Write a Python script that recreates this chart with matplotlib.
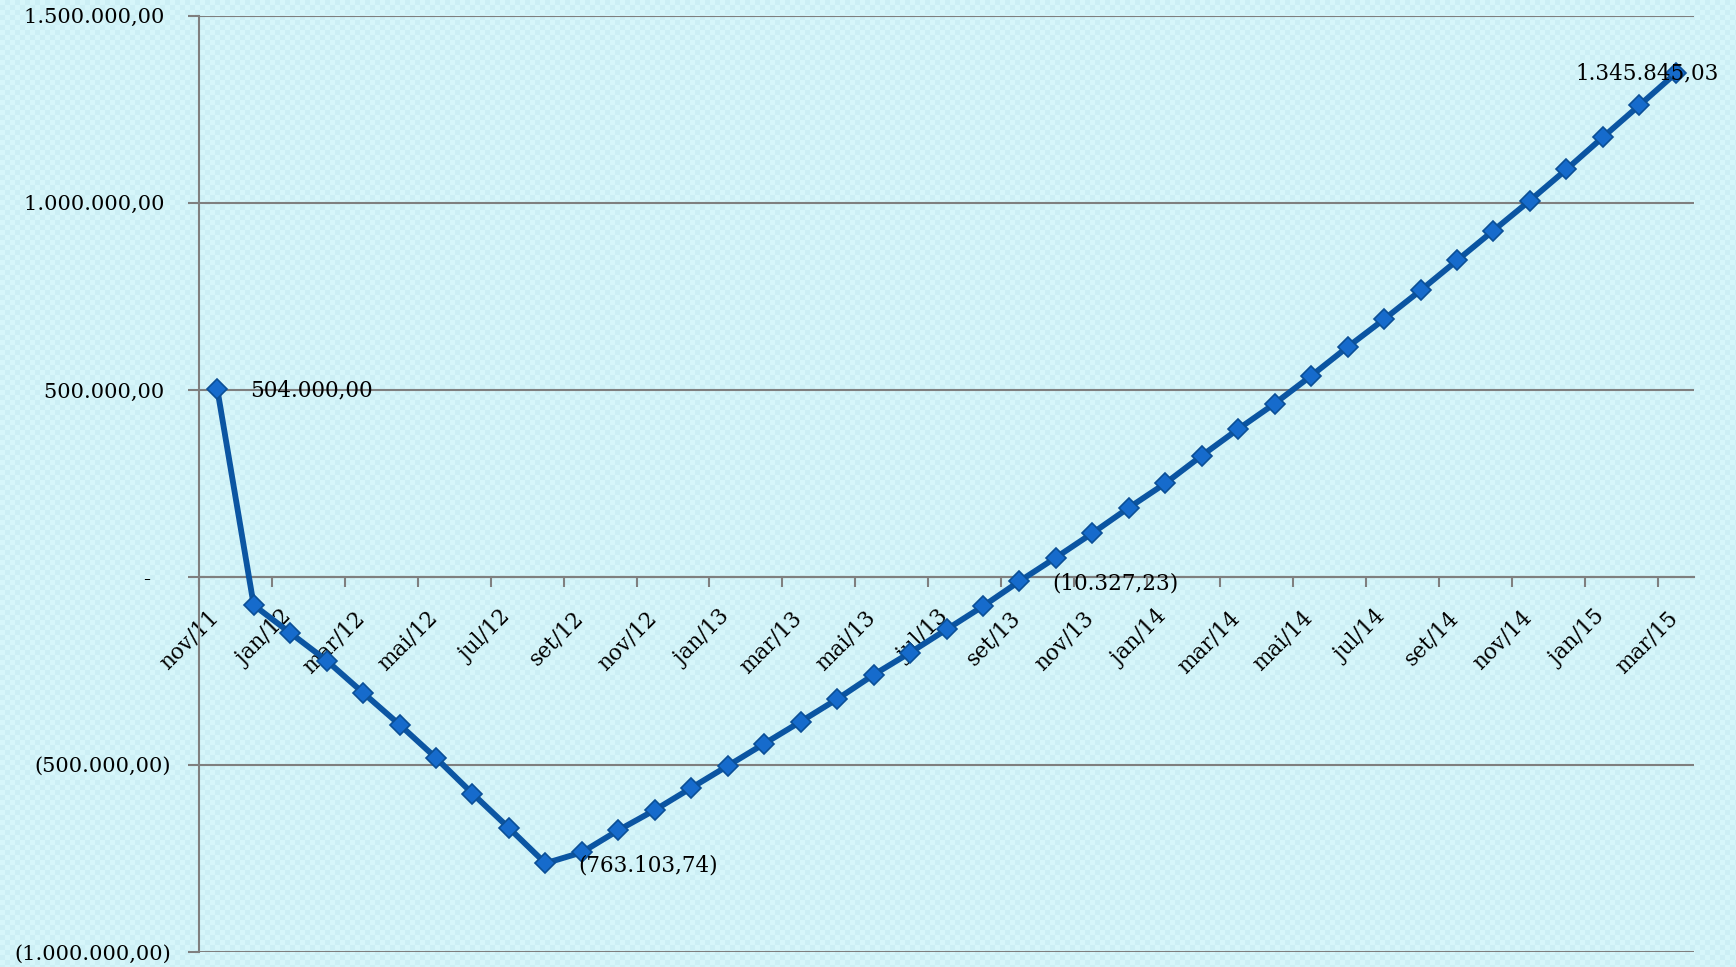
import numpy as np
import matplotlib
matplotlib.use('Agg')
import matplotlib.pyplot as plt
import matplotlib.transforms as mtransforms

# monthly cumulative balance, nov/11 .. mar/15
meses = ['nov/11', 'dez/11',
         'jan/12', 'fev/12', 'mar/12', 'abr/12', 'mai/12', 'jun/12',
         'jul/12', 'ago/12', 'set/12', 'out/12', 'nov/12', 'dez/12',
         'jan/13', 'fev/13', 'mar/13', 'abr/13', 'mai/13', 'jun/13',
         'jul/13', 'ago/13', 'set/13', 'out/13', 'nov/13', 'dez/13',
         'jan/14', 'fev/14', 'mar/14', 'abr/14', 'mai/14', 'jun/14',
         'jul/14', 'ago/14', 'set/14', 'out/14', 'nov/14', 'dez/14',
         'jan/15', 'fev/15', 'mar/15']
saldo = [504000.00, -74000, -148000, -222000, -308000, -393000, -482000,
         -577000, -669000, -763103.74, -734000, -675000, -621000, -562000,
         -503000, -444000, -385000, -325000, -260000, -201000, -139000,
         -77000, -10327.23, 53000, 118000, 186000, 251000, 325000, 396000,
         464000, 538000, 615000, 689000, 766000, 846000, 926000, 1006000,
         1089000, 1175000, 1260000, 1345845.03]
# points carrying a data label
rotulos = [0, 9, 22, 40]

y_ticks = [-1000000, -500000, 0, 500000, 1000000, 1500000]
y_labels = ['(1.000.000,00)', '(500.000,00)', '-   ', '500.000,00 ',
            '1.000.000,00 ', '1.500.000,00 ']


def fmt(v):
    s = '{:,.2f}'.format(abs(v)).replace(',', 'X').replace('.', ',').replace('X', '.')
    return '(' + s + ')' if v < 0 else s


plt.rcParams['font.family'] = ['DejaVu Serif']

fig = plt.figure(figsize=(17.36, 9.67), dpi=100)
# light cyan checker background
h, w = 967, 1736
yy, xx = np.mgrid[0:h, 0:w]
chk = ((yy // 5 + xx // 5) % 2).astype(float)
c1 = np.array([0xd6, 0xf6, 0xfa]) / 255
c2 = np.array([0xcc, 0xef, 0xf5]) / 255
bg = c1[None, None, :] * (1 - chk[..., None]) + c2[None, None, :] * chk[..., None]
fig.figimage(bg, 0, 0, zorder=-10)

ax = fig.add_axes([199/1736, 1 - 952/967, (1694 - 199)/1736, (952 - 15.5)/967])
ax.set_zorder(1)
ax.patch.set_alpha(0)

x = np.arange(len(saldo))
ax.plot(x, saldo, color='#0b55a2', lw=4.2, marker='D', ms=10.5,
        mfc='#166bcc', mec='#0b4f96', mew=1.2, zorder=5)

for i in rotulos:
    if i == len(saldo) - 1:
        ax.annotate(fmt(saldo[i]), (x[i], saldo[i]), xytext=(43, 0),
                    textcoords='offset pixels', ha='right', va='center',
                    fontsize=15.5, zorder=6, annotation_clip=False)
    else:
        ax.annotate(fmt(saldo[i]), (x[i], saldo[i]), xytext=(33, -2),
                    textcoords='offset pixels', ha='left', va='center',
                    fontsize=15.5, zorder=6)

ax.set_xlim(-0.5, len(saldo) - 0.5)
ax.set_ylim(-1000000, 1500000)

# y axis
ax.set_yticks(y_ticks)
ax.set_yticklabels(y_labels, fontsize=15)
ax.tick_params(axis='y', length=8, width=1.5, color='#7f7f7f', pad=12)
ax.grid(axis='y', color='#7f7f7f', lw=1.5)
ax.set_axisbelow(True)

# x axis on zero line
ax.spines['bottom'].set_position(('data', 0))
for s in ['top', 'right']:
    ax.spines[s].set_visible(False)
for s in ['left', 'bottom']:
    ax.spines[s].set_color('#7f7f7f')
    ax.spines[s].set_linewidth(1.5)

ax.set_xticks(np.arange(-0.5, len(saldo) - 1, 2))
ax.set_xticklabels([])
ax.tick_params(axis='x', which='major', length=7, width=1.5, color='#7f7f7f')
ax.set_xticks(x[::2], minor=True)
ax.set_xticklabels(meses[::2], minor=True, rotation=45, ha='right',
                   va='top', fontsize=15.5)
ax.tick_params(axis='x', which='minor', length=0, pad=21)
off = mtransforms.ScaledTranslation(6/100, 0, fig.dpi_scale_trans)
for lab in ax.get_xticklabels(minor=True):
    lab.set_transform(lab.get_transform() + off)

fig.savefig('out.png', dpi=100)
